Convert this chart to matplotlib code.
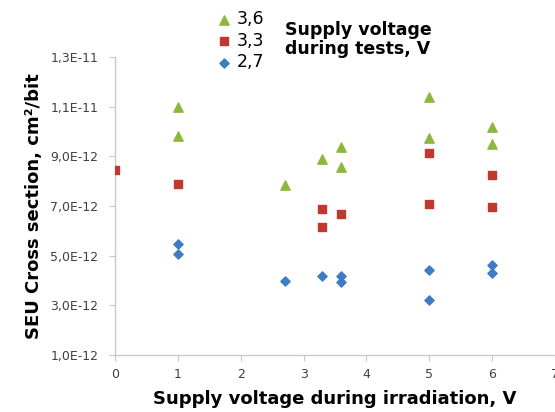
import matplotlib
matplotlib.use('Agg')
from matplotlib import pyplot as plt
from matplotlib.ticker import FuncFormatter

# supply voltage during irradiation (V) and SEU cross section (cm^2/bit)
x_36 = [1, 1, 2.7, 3.3, 3.6, 3.6, 5, 5, 6, 6]
y_36 = [11.0e-12, 9.8e-12, 7.84e-12, 8.9e-12, 9.36e-12, 8.56e-12, 11.4e-12, 9.72e-12, 10.17e-12, 9.48e-12]

x_33 = [0, 1, 3.3, 3.3, 3.6, 5, 5, 6, 6]
y_33 = [8.44e-12, 7.88e-12, 6.88e-12, 6.16e-12, 6.69e-12, 9.12e-12, 7.08e-12, 8.24e-12, 6.96e-12]

x_27 = [1, 1, 2.7, 3.3, 3.6, 3.6, 5, 5, 6, 6]
y_27 = [5.48e-12, 5.08e-12, 4.0e-12, 4.17e-12, 4.2e-12, 3.93e-12, 4.43e-12, 3.23e-12, 4.63e-12, 4.29e-12]

y_ticks = [1e-12, 3e-12, 5e-12, 7e-12, 9e-12, 11e-12, 13e-12]
x_ticks = [0, 1, 2, 3, 4, 5, 6, 7]


def sci_comma(v, pos):
    s = f'{v:.1E}'
    mant, exp = s.split('E')
    return f'{mant.replace(".", ",")}E{int(exp)}'


def main():
    fig = plt.figure(figsize=(5.55, 4.12), dpi=100)
    ax = fig.add_axes([0.2072, 0.1383, 0.7928, 0.7234])

    green = '#8db840'
    red = '#c0392f'
    blue = '#3f7cc6'

    h36 = ax.scatter(x_36, y_36, marker='^', s=45, color=green, label='3,6', zorder=3)
    h33 = ax.scatter(x_33, y_33, marker='s', s=38, color=red, label='3,3', zorder=3)
    h27 = ax.scatter(x_27, y_27, marker='D', s=22, color=blue, label='2,7', zorder=3)

    ax.set_xlim(0, 7)
    ax.set_ylim(1e-12, 13e-12)
    ax.set_xticks(x_ticks)
    ax.set_yticks(y_ticks)
    ax.yaxis.set_major_formatter(FuncFormatter(sci_comma))

    for side in ['top', 'right']:
        ax.spines[side].set_visible(False)
    for side in ['left', 'bottom']:
        ax.spines[side].set_color('#c8c8c8')
        ax.spines[side].set_linewidth(1.0)
    ax.tick_params(axis='both', colors='#c8c8c8', labelcolor='#404040', labelsize=9, length=4)
    ax.tick_params(axis='x', pad=5)
    ax.tick_params(axis='y', pad=8)

    ax.set_xlabel('Supply voltage during irradiation, V', fontsize=13, fontweight='bold', labelpad=7)
    ax.set_ylabel('SEU Cross section, cm²/bit', fontsize=13, fontweight='bold', labelpad=5)

    fig.legend(handles=[h36, h33, h27], loc='upper left', bbox_to_anchor=(0.37, 1.0),
               frameon=False, fontsize=12.5, handletextpad=0.2, labelspacing=0.2,
               handlelength=1.0, borderaxespad=0.2)
    fig.text(0.513, 0.95, 'Supply voltage\nduring tests, V', fontsize=12.5, fontweight='bold',
             va='top', ha='left', linespacing=1.1)

    fig.savefig('out.png', dpi=100)


if __name__ == '__main__':
    main()
